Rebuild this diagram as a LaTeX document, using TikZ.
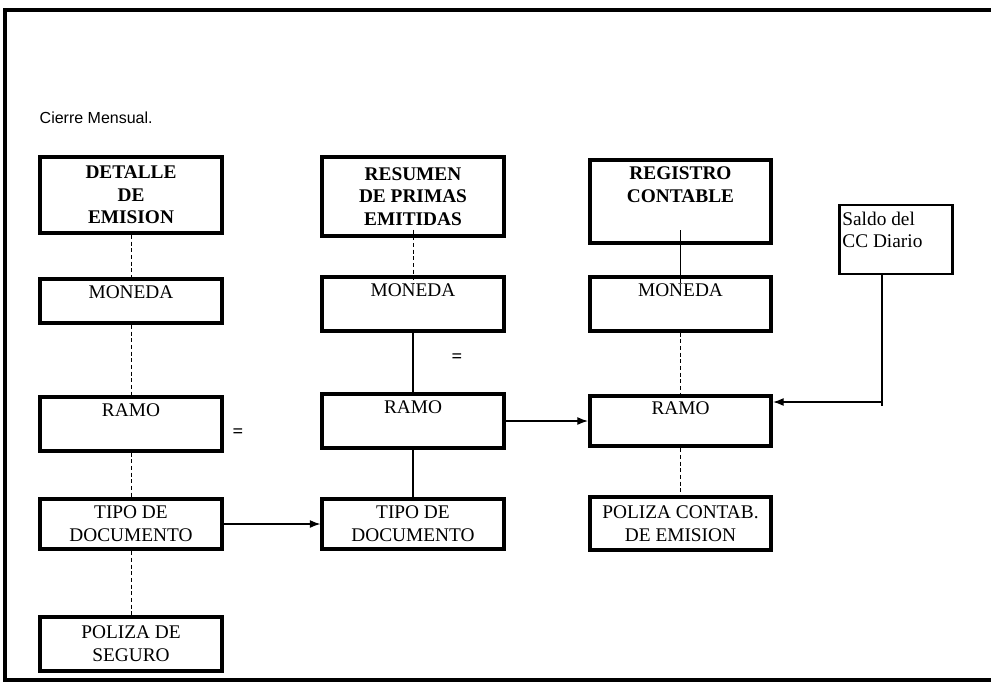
\documentclass[tikz,border=0pt]{standalone}
\usepackage{fontspec}
\setmainfont{Liberation Serif}
\newfontfamily\arialfont{Liberation Sans}
\usepackage{tikz}
\usetikzlibrary{positioning,arrows.meta}

\begin{document}
\begin{tikzpicture}[
  x=0.75pt,y=-0.75pt,
  font=\fontsize{14.5}{17}\selectfont,
  box/.style={rectangle,draw,line width=2.8pt,minimum width=136pt,align=center,inner sep=2pt},
  head/.style={box,font=\fontsize{14.5}{17}\selectfont\bfseries},
  toplbl/.style={anchor=north,align=center,inner sep=0pt,yshift=-6pt},
  toptext/.style={label={[toplbl]north:#1}},
  note/.style={rectangle,draw,line width=1.8pt,minimum width=85pt,minimum height=52pt},
  link/.style={densely dashed,line width=0.7pt},
  wire/.style={line width=1pt},
  arr/.style={-{Latex[length=8pt,width=6pt]},line width=1pt},
  eqsign/.style={font=\fontsize{14}{14}\selectfont\bfseries,inner sep=0pt},
]
\useasboundingbox (0,0) rectangle (991,682);
% Frame
\draw[line width=2.6pt] (991,10) -| (5,680) -- (991,680);
\node[anchor=west,font=\arialfont\fontsize{12}{14}\selectfont] (title) at (35,118) {Cierre Mensual.};

% Left column: emission detail
\node[head,minimum height=57pt] (det)   at (131,195)   {DETALLE\\DE\\EMISION};
\node[box,minimum height=33pt,toptext=MONEDA] (mon1) at (131,301) {};
\node[box,minimum height=40pt,toptext=RAMO]   (ramo1) at (131,424) {};
\node[box,minimum height=38pt] (tipo1)  at (131,524)   {TIPO DE\\DOCUMENTO};
\node[box,minimum height=40pt] (pol1)   at (131,644)   {POLIZA DE\\SEGURO};

% Middle column: premium summary
\node[head,minimum height=59pt] (res)   at (413,196.5) {RESUMEN\\DE PRIMAS\\EMITIDAS};
\node[box,minimum height=40pt,toptext=MONEDA] (mon2) at (413,304) {};
\node[box,minimum height=40pt,toptext=RAMO]   (ramo2) at (413,421) {};
\node[box,minimum height=38pt] (tipo2)  at (413,524)   {TIPO DE\\DOCUMENTO};

% Right column: accounting record
\node[box,minimum height=62pt,
  label={[toplbl,font=\fontsize{14.5}{17}\selectfont\bfseries]north:{REGISTRO\\CONTABLE}}] (reg) at (680.5,201.5) {};
\node[box,minimum height=40pt,toptext=MONEDA] (mon3) at (680.5,304) {};
\node[box,minimum height=38pt,toptext=RAMO]   (ramo3) at (680.5,421) {};
\node[box,minimum height=40pt] (pol3)   at (680.5,523.5) {POLIZA CONTAB.\\DE EMISION};

% Daily balance
\node[note,label={[anchor=north west,align=left,inner sep=0pt,xshift=3pt,yshift=-6pt]north west:{Saldo del\\CC Diario}}] (saldo) at (896,239.5) {};
\coordinate (bend) at (882,402);

% Equal signs
\node[eqsign] (eqa) at (238,433) {=};
\node[eqsign] (eqb) at (457,358) {=};

% Vertical links
\draw[link] (det) -- (mon1);
\draw[link] (mon1) -- (ramo1);
\draw[link] (ramo1) -- (tipo1);
\draw[link] (tipo1) -- (pol1);
\draw[link,shorten <=-6pt,shorten >=-6pt] (res) -- (mon2);
\draw[wire] (mon2) -- (ramo2);
\draw[wire] (ramo2) -- (tipo2);
\draw[wire,shorten <=-11pt,shorten >=-6pt] (reg) -- (mon3);
\draw[link] (mon3) -- (ramo3);
\draw[link] (ramo3) -- (pol3);

% Horizontal arrows
\draw[arr] (tipo1) -- (tipo2);
\draw[arr] (ramo2) -- (ramo3);
\draw[line width=1.8pt] (saldo.south -| bend) -- ([yshift=-3pt]bend);
\draw[arr] (bend) -- (bend -| ramo3.east);
\end{tikzpicture}
\end{document}
